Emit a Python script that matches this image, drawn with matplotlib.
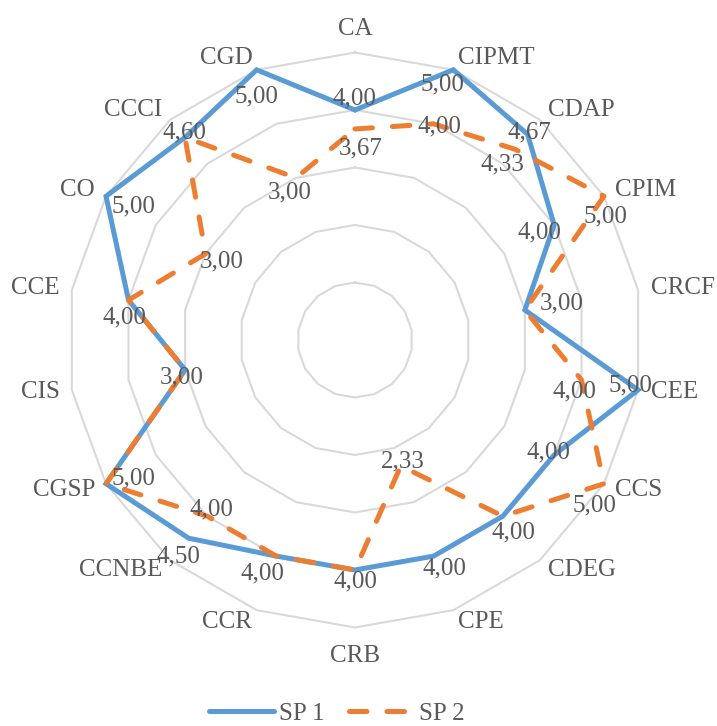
import numpy as np
import matplotlib
matplotlib.use('Agg')
import matplotlib.pyplot as plt

plt.rcParams['font.family'] = ['Liberation Serif', 'DejaVu Serif']

# categorias e valores
categorias = ['CA', 'CIPMT', 'CDAP', 'CPIM', 'CRCF', 'CEE', 'CCS', 'CDEG', 'CPE',
              'CRB', 'CCR', 'CCNBE', 'CGSP', 'CIS', 'CCE', 'CO', 'CCCI', 'CGD']
sp1 = [4.00, 5.00, 4.67, 4.00, 3.00, 5.00, 4.00, 4.00, 4.00,
       4.00, 4.00, 4.50, 5.00, 3.00, 4.00, 5.00, 4.60, 5.00]
sp2 = [3.67, 4.00, 4.33, 5.00, 3.00, 4.00, 5.00, 4.00, 2.33,
       4.00, 4.00, 4.00, 5.00, 3.00, 4.00, 3.00, 4.60, 3.00]
series = ['SP 1', 'SP 2']

# deslocamento dos rótulos de dados (pixels, x para direita, y para baixo)
off1 = [(-1, -12), (-11, 15), (2, -2), (-15, 7), (37, -7), (-8, -4), (-6, -3), (11, 16), (11, 12),
        (0, 11), (-14, 17), (-10, 18), (27, -5), (-3, 8), (-4, 17), (27, 10), (-1, -5), (0, 27)]
off2 = [(6, 19), (6, 3), (-13, 15), (1, 20), (37, -7), (-7, 12), (-10, 22), (11, 16), (2, -4),
        (0, 11), (-14, 17), (4, -7), (27, -5), (-3, 8), (-4, 17), (16, 8), (-1, -5), (-6, 15)]

azul = '#5B9BD5'
laranja = '#ED7D31'
cinza_txt = '#595959'
cinza_grid = '#D9D9D9'
fs = 18

n = len(categorias)
ang = np.deg2rad(np.arange(n) * 360 / n)
ang_f = np.append(ang, ang[0])

fig = plt.figure(figsize = (7.17, 7.26), dpi = 100)
ax = fig.add_axes([0.0941, 0.1357, 0.802, 0.792], projection = 'polar')
ax.set_theta_zero_location('N')
ax.set_theta_direction(-1)
ax.set_ylim(0, 5)
ax.set_xticks([])
ax.set_yticks([])
ax.grid(False)
ax.spines['polar'].set_visible(False)

# grade poligonal
for r in range(1, 6):
    ax.plot(ang_f, [r] * (n + 1), color = cinza_grid, lw = 1.5, zorder = 1, clip_on = False)

# séries
ax.plot(ang_f, sp1 + sp1[:1], color = azul, lw = 3.6, solid_joinstyle = 'miter',
        solid_capstyle = 'round', label = series[0], zorder = 3, clip_on = False)
ax.plot(ang_f, sp2 + sp2[:1], color = laranja, lw = 3.6, dashes = (3.5, 4),
        dash_capstyle = 'round', label = series[1], zorder = 4, clip_on = False)

# rótulos de dados (o de SP 2 fica por baixo do de SP 1 quando os valores coincidem)
for k, (vals, offs) in enumerate([(sp1, off1), (sp2, off2)]):
    for i, (a, v, (dx, dy)) in enumerate(zip(ang, vals, offs)):
        if k == 1 and v == sp1[i]:
            continue
        ax.annotate(f'{v:.2f}'.replace('.', ','), (a, v), xytext = (dx, -dy),
                    textcoords = 'offset pixels', ha = 'center', va = 'center',
                    fontsize = fs, color = cinza_txt, zorder = 5, annotation_clip = False)

# rótulos das categorias
for a, c in zip(ang, categorias):
    s, co = np.sin(a), np.cos(a)
    if abs(s) < 0.1:
        ha = 'center'
        va = 'bottom' if co > 0 else 'top'
    else:
        ha = 'left' if s > 0 else 'right'
        va = 'center'
    rr = 5.3 if co < -0.99 else 5.22
    ax.text(a, rr, c, ha = ha, va = va, fontsize = fs, color = cinza_txt)

fig.legend(loc = 'center', bbox_to_anchor = (0.47, 0.017), ncol = 2, frameon = False,
           fontsize = fs, labelcolor = cinza_txt, handlelength = 2.6, handletextpad = 0.2,
           columnspacing = 1.0, borderpad = 0)

fig.savefig('out.png', dpi = 100)
